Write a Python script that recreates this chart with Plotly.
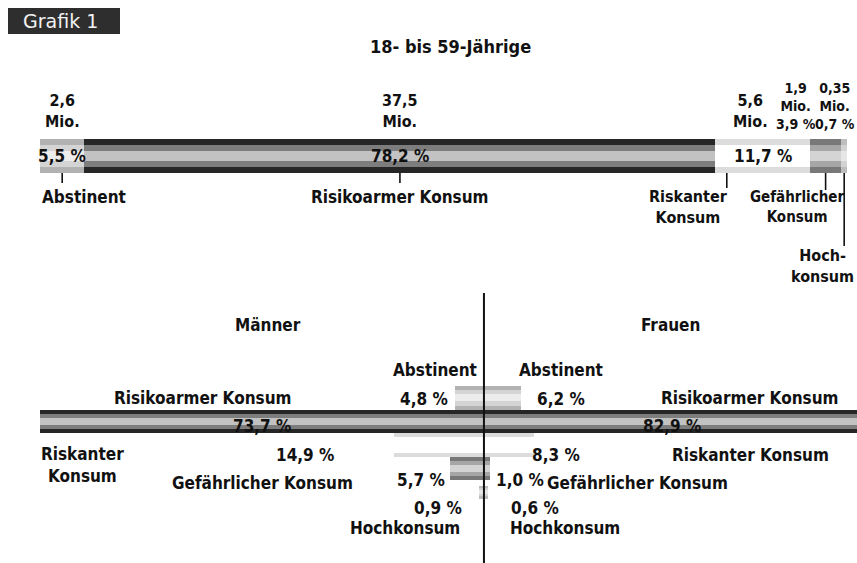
import plotly.graph_objects as go

W, H = 857, 563
FONT = "DejaVu Sans Condensed, DejaVu Sans, sans-serif"

# ---------------- data ----------------
categories = ["Abstinent", "Risikoarmer Konsum", "Riskanter Konsum",
              "Gefährlicher Konsum", "Hochkonsum"]
# 18- bis 59-Jährige (share in %, persons in Mio.)
total_share = [5.5, 78.2, 11.7, 3.9, 0.7]
total_share_labels = ["5,5 %", "78,2 %", "11,7 %", "3,9 %", "0,7 %"]
total_millions = ["2,6", "37,5", "5,6", "1,9", "0,35"]
# Männer / Frauen (share in %)
men_share = [4.8, 73.7, 14.9, 5.7, 0.9]
women_share = [6.2, 82.9, 8.3, 1.0, 0.6]
men_labels = ["4,8 %", "73,7 %", "14,9 %", "5,7 %", "0,9 %"]
women_labels = ["6,2 %", "82,9 %", "8,3 %", "1,0 %", "0,6 %"]

# ---------------- styles ----------------
# three stacked stripes per bar (outer, middle, core) -> tube look
layers = [
    (1.00, ["#b2b2b2", "#262626", "#dcdcdc", "#787878", "#bdbdbd"]),
    (0.66, ["#d4d4d4", "#7d7d7d", "#ffffff", "#a6a6a6", "#d3d3d3"]),
    (0.30, ["#ececec", "#c2c2c2", "#ffffff", "#d4d4d4", "#e7e7e7"]),
]
row_height = [1.0, 1.0, 1.0, 0.95, 0.55]

fig = go.Figure()

# ---------------- top: stacked bar ----------------
starts = []
acc = 0.0
for v in total_share:
    starts.append(acc)
    acc += v
centers = [s + v / 2 for s, v in zip(starts, total_share)]

for w, cols in layers:
    fig.add_trace(go.Bar(
        x=total_share, base=starts, y=[0] * len(total_share),
        orientation="h", width=w, marker=dict(color=cols, line=dict(width=0)),
        xaxis="x", yaxis="y", hoverinfo="skip", showlegend=False))

# ---------------- bottom: Männer / Frauen ----------------
for w, cols in layers:
    fig.add_trace(go.Bar(
        x=[-v for v in men_share], y=categories, orientation="h",
        width=[w * r for r in row_height], marker=dict(color=cols, line=dict(width=0)),
        xaxis="x2", yaxis="y2", hoverinfo="skip", showlegend=False))
    fig.add_trace(go.Bar(
        x=women_share, y=categories, orientation="h",
        width=[w * r for r in row_height], marker=dict(color=cols, line=dict(width=0)),
        xaxis="x2", yaxis="y2", hoverinfo="skip", showlegend=False))

ann = []
shapes = []


def py(ypx):
    return 1 - ypx / H


def txt(x, y, s, size=17, bold=True, xanchor="center", xref="paper",
        color="#111111", xshift=0, family=FONT):
    ann.append(dict(
        x=x / W if xref == "paper" else x, y=py(y), xref=xref, yref="paper",
        text=f"<b>{s}</b>" if bold else s, showarrow=False,
        xanchor=xanchor, yanchor="middle", xshift=xshift,
        font=dict(size=size, color=color, family=family)))


def vline(x, y0, y1, xref="x", width=1.6):
    shapes.append(dict(type="line", xref=xref, yref="paper", x0=x, x1=x,
                       y0=py(y0), y1=py(y1),
                       line=dict(color="#111111", width=width)))


# header box
shapes.append(dict(type="rect", xref="paper", yref="paper",
                   x0=8 / W, x1=120 / W, y0=py(34), y1=py(8),
                   fillcolor="#2e2e2e", line=dict(width=0), layer="below"))
txt(21, 21, "Grafik 1", size=19, bold=False, xanchor="left", color="#f2f2f2",
    family="DejaVu Sans, sans-serif")

txt(450, 46, "18- bis 59-Jährige", size=18)

# values above the bar ("Mio.") and shares inside
mio_shift = [0, 0, -12, -30, -9]
for i in range(3):
    txt(centers[i], 111, f"{total_millions[i]}<br>Mio.", xref="x",
        xshift=mio_shift[i], size=16)
    txt(centers[i], 156, total_share_labels[i], xref="x")
for i in range(3, 5):
    txt(centers[i], 106, f"{total_millions[i]}<br>Mio.<br>{total_share_labels[i]}",
        xref="x", xshift=mio_shift[i], size=14)

# category labels below the bar with leader ticks
vline(centers[0], 173, 183)
txt(40, 197, "Abstinent", xanchor="left")
vline(centers[1], 173, 183)
txt(centers[1], 197, "Risikoarmer Konsum", xref="x")
ri_tick = starts[2] + total_share[2] * 0.12
vline(ri_tick, 173, 188)
txt(688, 207, "Riskanter<br>Konsum", size=16)
vline(centers[3], 173, 190)
txt(797, 207, "Gefährlicher<br>Konsum", size=15)
vline(centers[4], 173, 246)
txt(856, 266, "Hoch-<br>konsum", xanchor="right", size=16)

# bottom part texts
txt(268, 325, "Männer")
txt(670, 325, "Frauen")
txt(479, 370, "Abstinent", xanchor="right")
txt(517, 370, "Abstinent", xanchor="left")
txt(-men_share[0], 399, men_labels[0], xref="x2", xanchor="right", xshift=-5)
txt(women_share[0], 399, women_labels[0], xref="x2", xanchor="left", xshift=14)
txt(203, 398, "Risikoarmer Konsum")
txt(750, 398, "Risikoarmer Konsum")
txt(-men_share[1] / 2, 426, men_labels[1], xref="x2")
txt(672, 426, women_labels[1])
txt(82, 465, "Riskanter<br>Konsum")
txt(305, 455, men_labels[2])
txt(556, 455, women_labels[2])
txt(750, 455, "Riskanter Konsum")
txt(355, 483, "Gefährlicher Konsum", xanchor="right")
txt(-men_share[3], 480, men_labels[3], xref="x2", xanchor="right", xshift=-3)
txt(women_share[3], 480, women_labels[3], xref="x2", xanchor="left", xshift=4)
txt(545, 483, "Gefährlicher Konsum", xanchor="left")
txt(438, 508, men_labels[4])
txt(405, 528, "Hochkonsum")
txt(535, 508, women_labels[4])
txt(565, 528, "Hochkonsum")

# centre line
vline(0, 293, 563, xref="x2", width=2)

fig.update_layout(
    width=W, height=H, margin=dict(l=0, r=0, t=0, b=0),
    paper_bgcolor="white", plot_bgcolor="rgba(0,0,0,0)",
    barmode="overlay", bargap=0,
    xaxis=dict(domain=[40 / W, 847 / W], range=[0, 100], visible=False, fixedrange=True),
    yaxis=dict(domain=[py(173), py(139)], range=[-0.5, 0.5], visible=False, fixedrange=True),
    xaxis2=dict(domain=[0, 1], range=[-80.3, 61.9], visible=False, fixedrange=True),
    yaxis2=dict(domain=[py(504), py(386)], type="category", categoryarray=categories,
                range=[4.5, -0.5], visible=False, fixedrange=True),
    annotations=ann, shapes=shapes, showlegend=False,
)

fig.write_html("out.html", config={"displayModeBar": False},
               post_script="document.body.style.margin='0px';document.body.style.overflow='hidden';")
